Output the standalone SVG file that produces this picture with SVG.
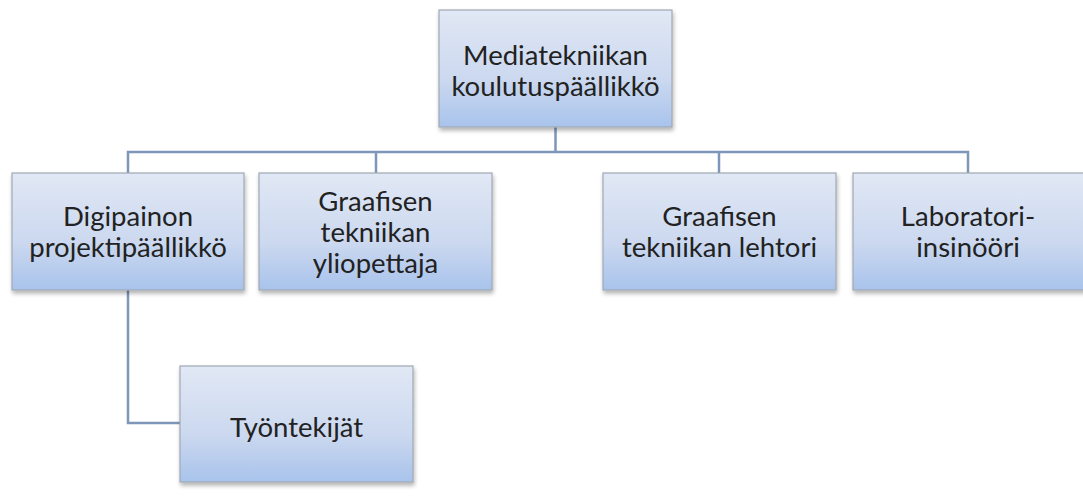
<svg xmlns="http://www.w3.org/2000/svg" width="1083" height="497" viewBox="0 0 1083 497">
<defs>
<linearGradient id="g" x1="0" y1="0" x2="0" y2="1">
<stop offset="0" stop-color="#e1e8f5"/>
<stop offset="0.6" stop-color="#cbd8ef"/>
<stop offset="1" stop-color="#a8c3ec"/>
</linearGradient>
<filter id="sh" x="-10%" y="-10%" width="130%" height="130%">
<feGaussianBlur in="SourceAlpha" stdDeviation="2"/>
<feOffset dx="1" dy="3" result="b"/>
<feComponentTransfer><feFuncA type="linear" slope="0.3"/></feComponentTransfer>
<feMerge><feMergeNode/><feMergeNode in="SourceGraphic"/></feMerge>
</filter>
</defs>
<style>
.box{fill:url(#g);stroke:#a0a8b4;stroke-width:1.2;filter:url(#sh)}
.t{font-family:Lato,"Open Sans","Liberation Sans",sans-serif;font-size:27.5px;fill:#222222;text-anchor:middle}
.c{fill:none;stroke:#7d96b9;stroke-width:2.5}
</style>
<rect width="1083" height="497" fill="#ffffff"/>
<g id="connectors">
<path class="c" d="M555.5 127 V152"/>
<path class="c" d="M128 173 V152 H968 V173"/>
<path class="c" d="M376 152 V173"/>
<path class="c" d="M719 152 V173"/>
<path class="c" d="M128 290 V423 H180"/>
</g>
<g id="n0"><rect class="box" x="439" y="10" width="233" height="117"/>
<text class="t" x="555.5" y="64.5">Mediatekniikan<tspan x="555.5" dy="31">koulutuspäällikkö</tspan></text></g>
<g id="n1"><rect class="box" x="12" y="173" width="232" height="117"/>
<text class="t" x="128" y="226">Digipainon<tspan x="128" dy="31">projektipäällikkö</tspan></text></g>
<g id="n2"><rect class="box" x="259" y="173" width="233" height="117"/>
<text class="t" x="375.5" y="211">Graafisen<tspan x="375.5" dy="31">tekniikan</tspan><tspan x="375.5" dy="31">yliopettaja</tspan></text></g>
<g id="n3"><rect class="box" x="603" y="173" width="233" height="117"/>
<text class="t" x="719.5" y="226">Graafisen<tspan x="719.5" dy="31">tekniikan lehtori</tspan></text></g>
<g id="n4"><rect class="box" x="853" y="173" width="233" height="117"/>
<text class="t" x="968" y="226">Laboratori-<tspan x="968" dy="31">insinööri</tspan></text></g>
<g id="n5"><rect class="box" x="180" y="366" width="233" height="116"/>
<text class="t" x="296.5" y="437">Työntekijät</text></g>
</svg>
